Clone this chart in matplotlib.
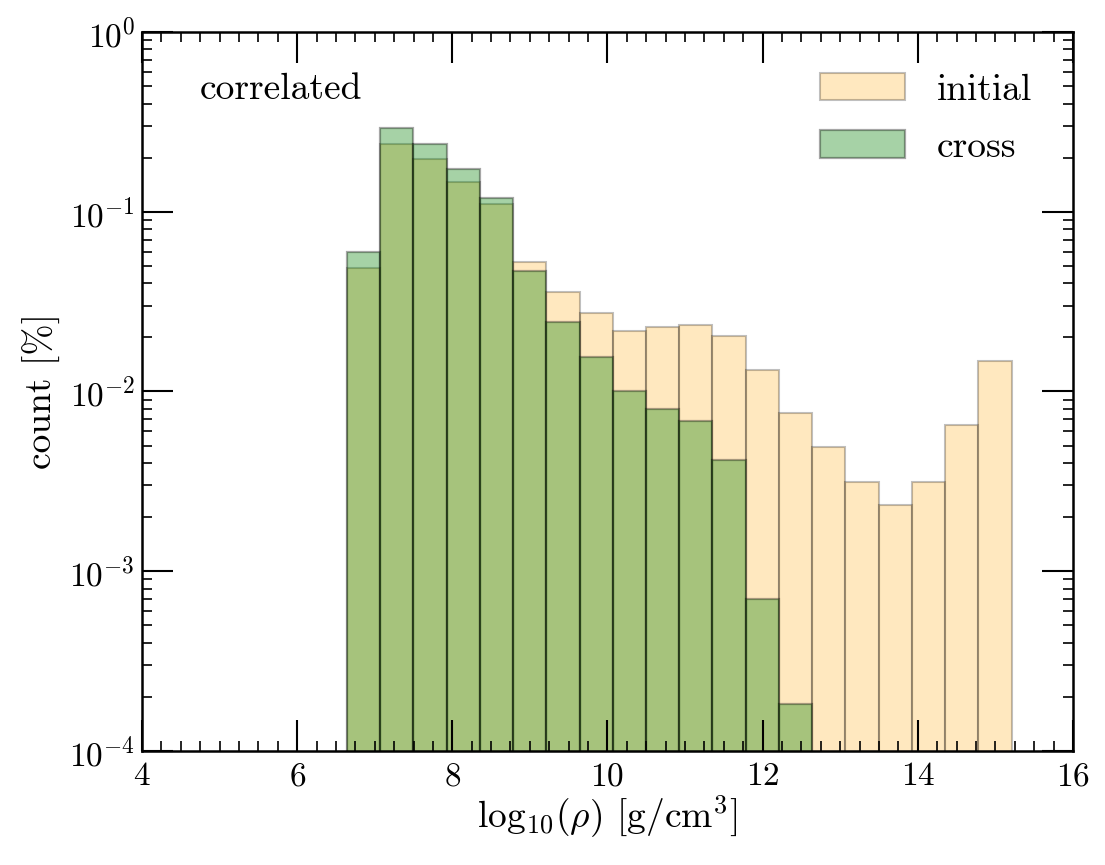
import numpy as np
import matplotlib
matplotlib.use("Agg")
import matplotlib.pyplot as plt
from matplotlib.ticker import MultipleLocator

plt.rcParams["font.family"] = "serif"
plt.rcParams["font.serif"] = ["cmr10"]
plt.rcParams["mathtext.fontset"] = "cm"
plt.rcParams["axes.formatter.use_mathtext"] = True
plt.rcParams["axes.unicode_minus"] = False

# bin edges of log10(rho) and fraction per bin
bin_edges = np.linspace(6.64, 15.21, 21)
initial = [0.0485, 0.2372, 0.1966, 0.1458, 0.1104, 0.0527, 0.0359, 0.02745,
           0.0218, 0.02285, 0.02353, 0.02023, 0.01309, 0.00756, 0.00489,
           0.00313, 0.00233, 0.00315, 0.00651, 0.01478]
cross = [0.0595, 0.291, 0.238, 0.1736, 0.1197, 0.047, 0.02427, 0.01562,
         0.01007, 0.00796, 0.00685, 0.00416, 0.000698, 0.0001826, 0, 0,
         0, 0, 0, 0]

centers = 0.5 * (bin_edges[:-1] + bin_edges[1:])

fig = plt.figure(figsize=(11.05, 8.65), dpi=100)
ax = fig.add_axes([0.1285, 0.1318, 0.8425, 0.8312])

ax.hist(centers, bins=bin_edges, weights=initial, color="orange", alpha=0.25,
        edgecolor="k", linewidth=1.5, label="initial")
ax.hist(centers, bins=bin_edges, weights=cross, color="green", alpha=0.35,
        edgecolor="k", linewidth=1.6, label="cross")

ax.set_yscale("log")
ax.set_xlim(4, 16)
ax.set_ylim(1e-4, 1)
ax.xaxis.set_major_locator(MultipleLocator(2))
ax.xaxis.set_minor_locator(MultipleLocator(0.25))

ax.tick_params(which="both", direction="in", top=True, right=True, labelsize=24)
ax.tick_params(which="major", length=22, width=1.5)
ax.tick_params(which="minor", length=7, width=1.2)
ax.tick_params(axis="x", which="major", pad=8)
ax.tick_params(axis="y", which="major", pad=5)
for s in ax.spines.values():
    s.set_linewidth(1.8)

ax.set_xlabel(r"$\mathrm{log}_{10}(\rho)$ [g/cm$^3$]", fontsize=27, labelpad=2)
ax.set_ylabel("count [%]", fontsize=27, labelpad=6)

ax.text(0.062, 0.92, "correlated", transform=ax.transAxes, fontsize=27,
        va="center", ha="left")
ax.legend(loc="upper right", frameon=False, fontsize=27, handlelength=2.27,
          handleheight=0.77, handletextpad=0.85, labelspacing=0.62,
          borderaxespad=0.68)

fig.savefig("out.png", dpi=100)
